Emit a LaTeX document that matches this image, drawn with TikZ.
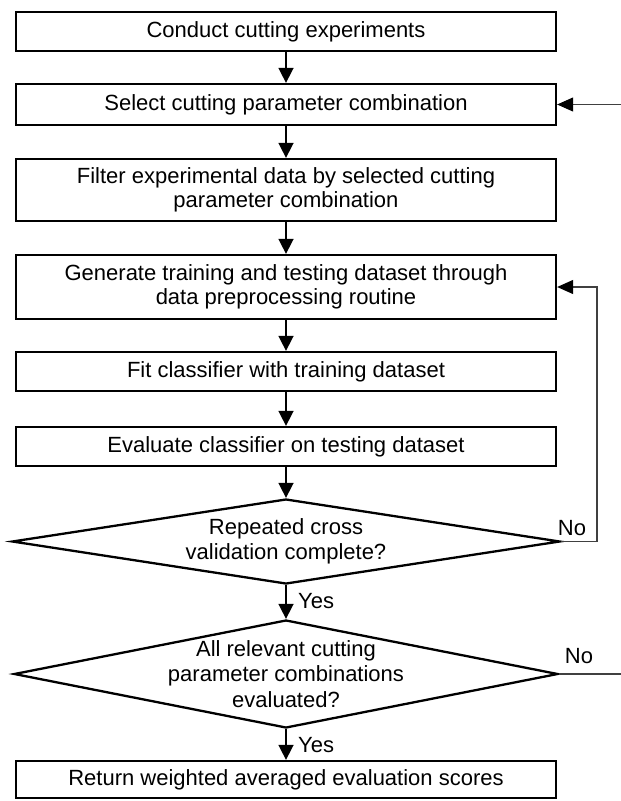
\documentclass[tikz,border=0pt]{standalone}
\usepackage{fontspec}
\setmainfont{Liberation Sans}
\usetikzlibrary{shapes.geometric,arrows.meta}
\begin{document}
\begin{tikzpicture}[x=1pt,y=-1pt,
  font=\fontsize{22}{24}\selectfont,
  box/.style={draw, line width=2.3pt, minimum width=540pt, inner sep=0pt, align=center},
  dec/.style={draw, diamond, line width=2.3pt, inner sep=0pt},
  dtext/.style={inner sep=0pt, align=center, font=\fontsize{22}{25.5}\selectfont},
  arr/.style={line width=1.6pt, -{Triangle[length=15pt,width=15pt]}},
  loopln/.style={line width=1.1pt, draw=black!75},
  looparr/.style={loopln, -{Triangle[length=16pt,width=14pt,color=black,fill=black]}},
  lbl/.style={inner sep=0pt}]
\useasboundingbox (0,0) rectangle (621,801);

\node[box, minimum height=39pt] (b1) at (286,31.5) {Conduct cutting experiments};
\node[box, minimum height=41pt] (b2) at (286,104.5) {Select cutting parameter combination};
\node[box, minimum height=62pt] (b3) at (286,190) {Filter experimental data by selected cutting\\parameter combination};
\node[box, minimum height=64pt] (b4) at (286,287) {Generate training and testing dataset through\\data preprocessing routine};
\node[box, minimum height=39pt] (b5) at (286,371.5) {Fit classifier with training dataset};
\node[box, minimum height=39pt] (b6) at (286,446.5) {Evaluate classifier on testing dataset};
\node[dec, minimum width=548pt, minimum height=85pt] (d1) at (286,541.5) {};
\node[dtext] (d1t) at (286,541.5) {Repeated cross\\validation complete?};
\node[dec, minimum width=544pt, minimum height=108pt] (d2) at (286,674) {};
\node[dtext] (d2t) at (286,674) {All relevant cutting\\parameter combinations\\evaluated?};
\node[box, minimum height=37pt] (b7) at (286,779.5) {Return weighted averaged evaluation scores};

\draw[arr] (b1) -- (b2);
\draw[arr] (b2) -- (b3);
\draw[arr] (b3) -- (b4);
\draw[arr] (b4) -- (b5);
\draw[arr] (b5) -- (b6);
\draw[arr] (b6) -- (d1.north);
\draw[arr] (d1.south) -- (d2.north);
\draw[arr] (d2.south) -- (b7);

\coordinate (r1) at (597,541.5);
\draw[looparr] (d1.east) -- (r1) |- (b4.east);
\coordinate (e1) at (621,674);
\draw[loopln] (d2.east) -- (e1);
\coordinate (e2) at (621,104.5);
\draw[looparr] (e2) -- (b2.east);

\node[lbl, anchor=west] (y1) at (298,601) {Yes};
\node[lbl, anchor=west] (y2) at (298,745) {Yes};
\node[lbl] (n1) at (572,528) {No};
\node[lbl] (n2) at (579,656) {No};
\end{tikzpicture}
\end{document}
